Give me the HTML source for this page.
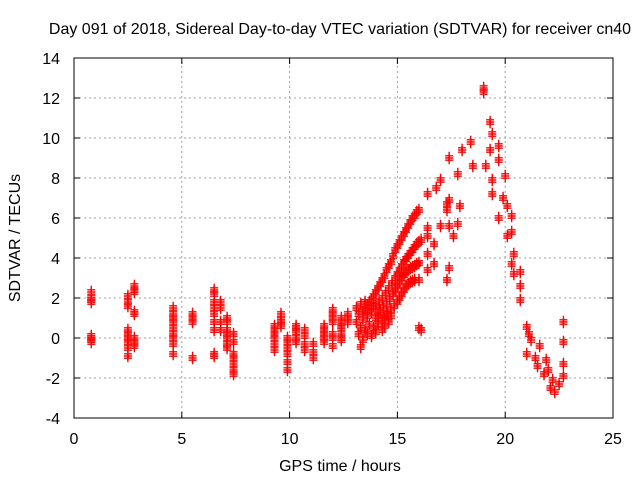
<!DOCTYPE html>
<html><head><meta charset="utf-8"><style>
body{margin:0;background:#fff;}
svg text{font-family:"Liberation Sans",sans-serif;font-size:16px;fill:#000;}
</style></head><body>
<svg id="chart" width="640" height="480" xmlns="http://www.w3.org/2000/svg">
<rect width="640" height="480" fill="#fff"/>
<g id="grid"></g><g id="marks"></g><g id="axes"></g>
<text x="340" y="34" text-anchor="middle">Day 091 of 2018, Sidereal Day-to-day VTEC variation (SDTVAR) for receiver cn40</text>
<text x="340" y="471" text-anchor="middle">GPS time / hours</text>
<text transform="translate(20,238) rotate(-90)" text-anchor="middle">SDTVAR / TECUs</text>
</svg>
<script>
const xTicks=[0,5,10,15,20,25];
const yTicks=[-4,-2,0,2,4,6,8,10,12,14];
const times=[
0.8,0.8,0.8,0.8,0.8,0.8,0.8,0.8,
2.5,2.5,2.5,2.5,2.5,2.5,2.5,2.5,2.5,2.8,2.8,2.8,2.8,2.8,2.8,2.8,2.8,
4.6,4.6,4.6,4.6,4.6,4.6,4.6,4.6,4.6,
5.5,5.5,5.5,5.5,
6.5,6.5,6.5,6.5,6.5,6.5,6.5,6.5,6.5,6.8,6.8,6.8,6.8,
7.1,7.1,7.1,7.1,7.1,7.1,7.1,7.4,7.4,7.4,7.4,7.4,7.4,7.4,
9.3,9.3,9.3,9.3,9.3,9.3,9.6,9.6,9.6,9.6,9.9,9.9,9.9,9.9,9.9,9.9,
10.3,10.3,10.3,10.3,10.3,10.7,10.7,10.7,10.7,11.1,11.1,11.1,
11.6,11.6,11.6,11.6,11.6,12.0,12.0,12.0,12.0,12.0,12.0,12.0,
12.4,12.4,12.4,12.4,12.4,12.4,12.4,12.7,12.7,12.7,
13.4,13.6,13.8,14.0,14.2,14.4,14.6,14.8,15.0,15.2,15.4,15.6,15.8,16.0,13.5,13.7,13.9,14.1,14.3,14.5,14.7,14.9,15.1,15.3,15.5,15.7,15.9,
14.0,14.3,14.6,14.9,15.1,15.3,15.5,15.7,15.9,16.1,14.15,14.45,14.75,15.0,15.2,15.4,15.6,15.8,16.0,
14.2,14.5,14.8,15.0,15.2,15.4,15.6,15.8,16.0,14.35,14.65,14.9,15.1,15.3,15.5,15.7,15.9,
14.4,14.7,15.0,15.2,15.4,15.6,15.8,16.0,14.55,14.85,15.1,15.3,15.5,15.7,
13.1,13.2,13.3,13.4,13.5,13.6,13.7,13.8,13.9,14.0,14.1,14.2,14.3,14.4,14.5,13.3,13.5,13.2,13.4,13.3,13.6,13.8,14.0,14.3,13.7,13.9,14.1,14.6,14.7,13.1,
16.0,16.1,
16.4,16.8,17.0,17.4,17.8,18.0,18.4,18.5,17.4,17.9,17.3,17.0,17.4,17.8,17.6,16.4,16.4,16.7,16.4,16.7,16.4,17.4,17.3,17.3,
19.0,19.0,19.3,19.4,19.3,19.7,19.7,19.1,19.4,20.0,19.4,19.9,20.1,20.3,19.7,20.3,20.1,20.4,20.3,20.7,20.4,20.7,20.7,
21.0,21.2,21.6,21.0,21.9,21.8,22.2,22.3,22.7,22.7,22.7,22.7,21.4,22.0,22.5,21.1,21.5,22.1
];
const values=[
2.3,2.0,1.9,1.8,0.1,0.0,-0.1,-0.2,
2.1,1.8,1.6,0.4,0.2,0.0,-0.2,-0.5,-0.9,2.6,2.4,2.3,1.3,1.2,0.0,-0.2,-0.4,
1.5,1.2,1.0,0.8,0.5,0.2,0.0,-0.3,-0.8,
1.2,1.0,0.8,-1.0,
2.4,2.2,1.8,1.5,1.2,0.8,0.4,-0.8,-0.9,1.8,1.5,0.8,0.4,
1.0,0.8,0.4,0.2,0.0,-0.3,-0.5,0.2,-0.2,-0.8,-1.0,-1.3,-1.6,-1.8,
0.6,0.4,0.2,0.0,-0.3,-0.6,1.2,0.9,0.6,0.8,0.0,-0.2,-0.5,-0.8,-1.2,-1.6,
0.6,0.5,0.3,0.0,-0.2,0.4,0.1,-0.3,-0.6,-0.3,-0.7,-1.0,
0.6,0.4,0.2,0.0,-0.2,1.4,1.2,1.0,0.8,0.2,0.0,-0.4,
1.0,0.8,0.6,0.5,0.2,0.0,-0.1,1.2,1.0,0.8,
1.3,1.6,1.9,2.3,2.7,3.1,3.6,4.1,4.6,5.0,5.4,5.8,6.1,6.4,1.4,1.8,2.1,2.5,2.9,3.4,3.8,4.4,4.8,5.2,5.6,6.0,6.3,
1.6,2.0,2.5,3.0,3.4,3.8,4.1,4.4,4.7,4.9,1.8,2.25,2.75,3.2,3.6,3.95,4.25,4.55,4.8,
1.3,1.7,2.2,2.6,3.0,3.3,3.5,3.6,3.75,1.5,1.95,2.4,2.8,3.15,3.4,3.55,3.7,
1.0,1.4,1.8,2.2,2.6,2.8,2.9,2.9,1.2,1.6,2.0,2.4,2.7,2.85,
0.8,1.2,0.5,0.9,0.4,1.1,0.7,1.3,0.5,1.0,0.7,1.4,0.9,0.6,1.2,1.7,1.8,0.2,-0.1,-0.45,0.2,0.1,0.3,0.4,1.5,1.6,1.1,0.8,1.1,1.5,
0.5,0.4,
7.2,7.5,7.9,9.0,8.2,9.4,9.8,8.6,6.9,6.6,6.4,5.6,5.6,5.7,5.1,5.5,5.1,4.7,4.2,3.7,3.4,3.5,2.9,6.7,
12.5,12.3,10.8,10.2,9.4,9.6,8.9,8.6,7.9,8.1,7.2,7.0,6.6,6.1,6.0,5.3,5.1,4.2,3.7,3.3,3.2,2.6,1.9,
0.55,-0.1,-0.4,-0.8,-1.1,-1.8,-2.1,-2.7,-1.3,-1.9,0.8,-0.2,-1.0,-1.6,-2.3,0.2,-1.4,-2.5
];
const X0=74,X1=613,Y0=418,Y1=58;
function xs(t){return X0+(t-0)/(25-0)*(X1-X0);}
function ys(v){return Y0-(v+4)/(14+4)*(Y0-Y1);}
const NS='http://www.w3.org/2000/svg';
const grid=document.getElementById('grid'),axes=document.getElementById('axes'),marks=document.getElementById('marks');
function mk(tag,attrs,parent){const e=document.createElementNS(NS,tag);for(const k in attrs)e.setAttribute(k,attrs[k]);parent.appendChild(e);return e;}
xTicks.forEach(t=>{
  const x=xs(t);
  if(t>0&&t<25){const g=mk('line',{x1:x,x2:x,y1:Y0,y2:Y1,stroke:'#a0a0a0','stroke-dasharray':'2,3'},grid);
  
  }
  mk('line',{x1:x,x2:x,y1:Y0,y2:Y0-6,stroke:'#000'},axes);
  mk('line',{x1:x,x2:x,y1:Y1,y2:Y1+6,stroke:'#000'},axes);
  const l=mk('text',{x:x,y:Y0+26,'text-anchor':'middle'},axes);l.textContent=t;
  
  
});
yTicks.forEach(v=>{
  const y=ys(v);
  if(v>-4&&v<14){const g=mk('line',{x1:X0,x2:X1,y1:y,y2:y,stroke:'#a0a0a0','stroke-dasharray':'2,3'},grid);
  
  }
  mk('line',{x1:X0,x2:X0+6,y1:y,y2:y,stroke:'#000'},axes);
  mk('line',{x1:X1,x2:X1-6,y1:y,y2:y,stroke:'#000'},axes);
  const l=mk('text',{x:X0-14,y:y+6,'text-anchor':'end'},axes);l.textContent=v;
  
  
});
const fr=mk('rect',{x:X0,y:Y1,width:X1-X0,height:Y0-Y1,fill:'none',stroke:'#000'},axes);


times.forEach((t,i)=>{
  const x=xs(t),y=ys(values[i]);
  for(let k=-1;k<=1;k++){
    const p=mk('path',{d:`M${x-4},${y+k*2.2}h8M${x},${y+k*2.2-4}v8`,stroke:'#ff0000','stroke-width':1.4,fill:'none'},marks);
    
    
  }
});
</script>
</body></html>
